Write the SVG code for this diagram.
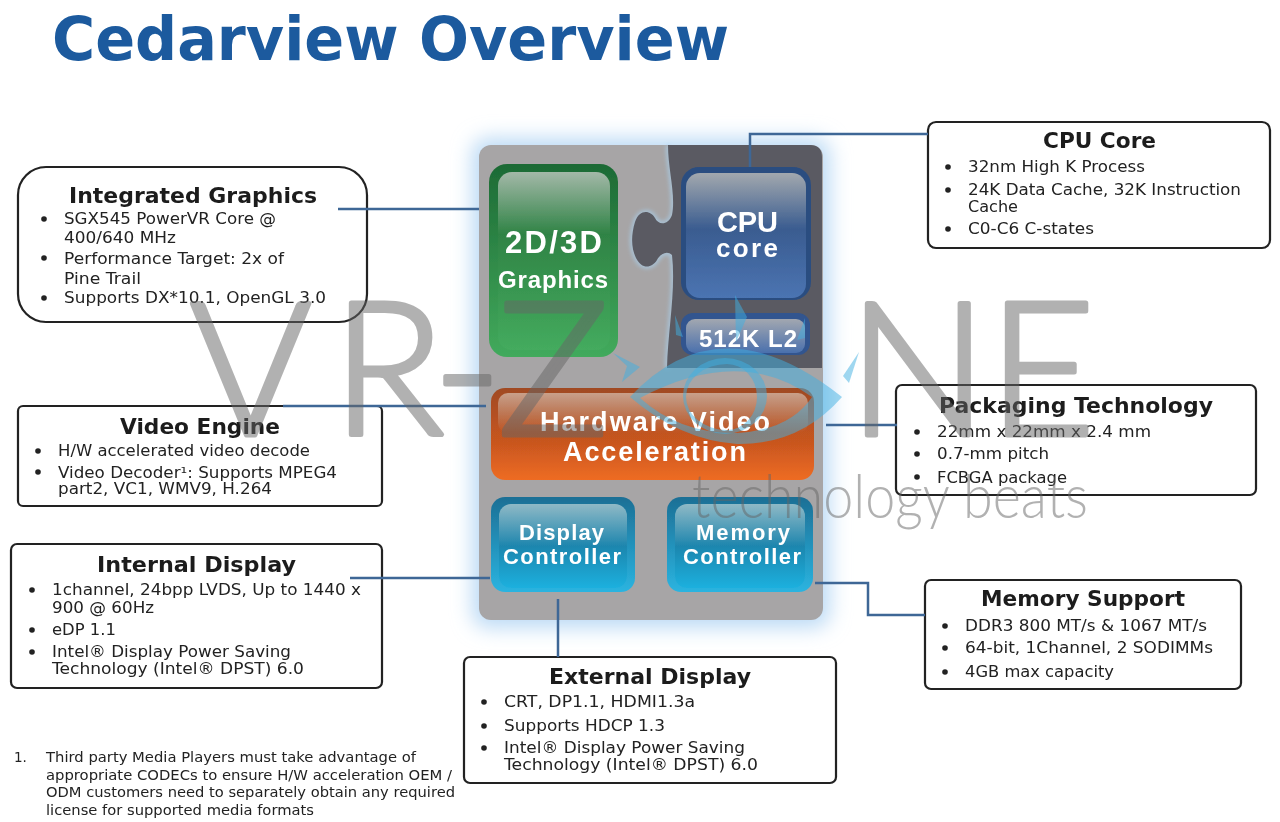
<svg xmlns="http://www.w3.org/2000/svg" width="1280" height="822" viewBox="0 0 1280 822">
<style>
text{font-family:"DejaVu Sans","Liberation Sans",sans-serif;fill:#222}
.t{font-weight:700;font-size:21px;fill:#1c1c1c}
.b{font-size:15.5px}
.f{font-size:13.5px}
.box{fill:#fff;stroke:#222;stroke-width:2.2}
.d{fill:#222}
.c{fill:none;stroke:#3e6796;stroke-width:2.5}
.w{font-family:"Liberation Sans","DejaVu Sans",sans-serif;font-weight:700;fill:#fff}
.m{font-family:Lato,"Liberation Sans",sans-serif;font-weight:300;fill:#666;opacity:.5}
.k{stroke:#666;stroke-width:5;stroke-linejoin:round;stroke-linecap:round}
.e{fill:#3fb0e2;opacity:.5}
.s{filter:url(#t)}
</style>
<defs>
<filter id="g" x="-20%" y="-20%" width="140%" height="140%"><feGaussianBlur stdDeviation="10"/></filter>
<filter id="s" x="-5%" y="-5%" width="110%" height="110%"><feGaussianBlur stdDeviation="0.6"/></filter>
<filter id="h" x="-20%" y="-20%" width="140%" height="140%"><feGaussianBlur stdDeviation="2"/></filter>
<filter id="t" x="-2%" y="-2%" width="104%" height="104%"><feGaussianBlur stdDeviation="0.35"/></filter>
<linearGradient id="gr" x1="0" y1="0" x2="0" y2="1"><stop offset="0" stop-color="#1d6a35"/><stop offset="1" stop-color="#42aa5c"/></linearGradient>
<linearGradient id="gi" x1="0" y1="0" x2="0" y2="1"><stop offset="0" stop-color="#a3b8a8"/><stop offset=".35" stop-color="#2f8345"/><stop offset="1" stop-color="#44ab5e"/></linearGradient>
<linearGradient id="cp" x1="0" y1="0" x2="0" y2="1"><stop offset="0" stop-color="#a2a8ae"/><stop offset=".45" stop-color="#3a5c90"/><stop offset="1" stop-color="#4b74b2"/></linearGradient>
<linearGradient id="l2" x1="0" y1="0" x2="0" y2="1"><stop offset="0" stop-color="#a2a7b0"/><stop offset="1" stop-color="#4a70ad"/></linearGradient>
<linearGradient id="hw" x1="0" y1="0" x2="0" y2="1"><stop offset="0" stop-color="#a04a22"/><stop offset=".6" stop-color="#c9561f"/><stop offset="1" stop-color="#ee6c22"/></linearGradient>
<linearGradient id="hi" x1="0" y1="0" x2="0" y2="1"><stop offset="0" stop-color="#c9a08a"/><stop offset="1" stop-color="#c9a08a" stop-opacity="0"/></linearGradient>
<linearGradient id="bl" x1="0" y1="0" x2="0" y2="1"><stop offset="0" stop-color="#1c6f95"/><stop offset="1" stop-color="#2bb4e0"/></linearGradient>
<linearGradient id="bi" x1="0" y1="0" x2="0" y2="1"><stop offset="0" stop-color="#8fb9c6"/><stop offset=".5" stop-color="#1e86ae"/><stop offset="1" stop-color="#1fb0de"/></linearGradient>
</defs>
<rect width="1280" height="822" fill="#fff"/>
<text id="title" class="s" x="52" y="60" textLength="677" lengthAdjust="spacingAndGlyphs" style="font-weight:700;font-size:60px;fill:#1b5a9e">Cedarview Overview</text>

<g id="chip">
<rect x="472" y="138" width="358" height="490" rx="16" fill="#bcdaf5" filter="url(#g)"/>
<g filter="url(#s)">
<rect x="479" y="145" width="344" height="475" rx="12" fill="#a7a5a6"/>
<path d="M668 145C668 170 676 195 672 215C668 226 658 225 655 218C651 211 640 208 635 222C631 235 631 248 636 258C642 270 652 268 657 260C660 254 667 250 672 255C676 290 668 330 667 368" fill="none" stroke="#a9d4f4" stroke-width="3.5" opacity=".8" filter="url(#h)"/>
<path d="M668 145H810Q822 145 822 157V368H667C668 330 676 290 672 255C667 250 660 254 657 260C652 268 642 270 636 258C631 248 631 235 635 222C640 208 651 211 655 218C658 225 668 226 672 215C676 195 668 170 668 145Z" fill="#5a5a62"/>
</g>
</g>

<g id="graphics" filter="url(#s)">
<rect x="489" y="164" width="129" height="193" rx="18" fill="url(#gr)"/>
<rect x="498" y="172" width="112" height="178" rx="14" fill="url(#gi)"/>
<text class="w" x="505" y="253" font-size="31" textLength="97">2D/3D</text>
<text class="w" x="498" y="288" font-size="24" textLength="110">Graphics</text>
</g>
<g id="cpu" filter="url(#s)">
<rect x="681" y="167" width="130" height="133" rx="18" fill="#2b4d80"/>
<rect x="686" y="173" width="120" height="125" rx="14" fill="url(#cp)"/>
<text class="w" x="717" y="232" font-size="29" textLength="61">CPU</text>
<text class="w" x="716" y="257" font-size="26" textLength="62">core</text>
</g>
<g id="l2cache" filter="url(#s)">
<rect x="681" y="313" width="129" height="42" rx="12" fill="#31558f"/>
<rect x="686" y="319" width="119" height="34" rx="9" fill="url(#l2)"/>
<text class="w" x="699" y="347" font-size="24" textLength="98">512K L2</text>
</g>
<g id="hwvideo" filter="url(#s)">
<rect x="491" y="388" width="323" height="92" rx="14" fill="url(#hw)"/>
<rect x="498" y="393" width="310" height="40" rx="10" fill="url(#hi)"/>
<text class="w" x="540" y="431" font-size="27" textLength="230">Hardware Video</text>
<text class="w" x="563" y="461" font-size="27" textLength="183">Acceleration</text>
</g>
<g id="display" filter="url(#s)">
<rect x="491" y="497" width="144" height="95" rx="14" fill="url(#bl)"/>
<rect x="499" y="504" width="128" height="84" rx="12" fill="url(#bi)"/>
<text class="w" x="519" y="540" font-size="22" textLength="85">Display</text>
<text class="w" x="503" y="564" font-size="22" textLength="118">Controller</text>
</g>
<g id="memory" filter="url(#s)">
<rect x="667" y="497" width="146" height="95" rx="14" fill="url(#bl)"/>
<rect x="675" y="504" width="130" height="84" rx="12" fill="url(#bi)"/>
<text class="w" x="696" y="540" font-size="22" textLength="94">Memory</text>
<text class="w" x="683" y="564" font-size="22" textLength="118">Controller</text>
</g>

<g id="integrated-graphics" class="s">
<rect class="box" x="18" y="167" width="349" height="155" rx="28"/>
<text class="t" x="69" y="203" textLength="248" lengthAdjust="spacingAndGlyphs">Integrated Graphics</text>
<circle class="d" cx="44" cy="219" r="2.8"/><circle class="d" cx="44" cy="258" r="2.8"/><circle class="d" cx="44" cy="298" r="2.8"/>
<text class="b" x="64" y="224" textLength="212" lengthAdjust="spacingAndGlyphs">SGX545 PowerVR Core @</text>
<text class="b" x="64" y="243" textLength="112" lengthAdjust="spacingAndGlyphs">400/640 MHz</text>
<text class="b" x="64" y="264" textLength="220" lengthAdjust="spacingAndGlyphs">Performance Target: 2x of</text>
<text class="b" x="64" y="284" textLength="77" lengthAdjust="spacingAndGlyphs">Pine Trail</text>
<text class="b" x="64" y="303" textLength="262" lengthAdjust="spacingAndGlyphs">Supports DX*10.1, OpenGL 3.0</text>
</g>
<g id="cpu-core" class="s">
<rect class="box" x="928" y="122" width="342" height="126" rx="8"/>
<text class="t" x="1043" y="148" textLength="113" lengthAdjust="spacingAndGlyphs">CPU Core</text>
<circle class="d" cx="948" cy="167" r="2.8"/><circle class="d" cx="948" cy="190" r="2.8"/><circle class="d" cx="948" cy="229" r="2.8"/>
<text class="b" x="968" y="172" textLength="177" lengthAdjust="spacingAndGlyphs">32nm High K Process</text>
<text class="b" x="968" y="195" textLength="273" lengthAdjust="spacingAndGlyphs">24K Data Cache, 32K Instruction</text>
<text class="b" x="968" y="212" textLength="50" lengthAdjust="spacingAndGlyphs">Cache</text>
<text class="b" x="968" y="234" textLength="126" lengthAdjust="spacingAndGlyphs">C0-C6 C-states</text>
</g>
<g id="video-engine" class="s">
<rect class="box" x="18" y="406" width="364" height="100" rx="5"/>
<text class="t" x="120" y="434" textLength="160" lengthAdjust="spacingAndGlyphs">Video Engine</text>
<circle class="d" cx="38" cy="451" r="2.8"/><circle class="d" cx="38" cy="472" r="2.8"/>
<text class="b" x="58" y="456" textLength="252" lengthAdjust="spacingAndGlyphs">H/W accelerated video decode</text>
<text class="b" x="58" y="478" textLength="279" lengthAdjust="spacingAndGlyphs">Video Decoder¹: Supports MPEG4</text>
<text class="b" x="58" y="494" textLength="214" lengthAdjust="spacingAndGlyphs">part2, VC1, WMV9, H.264</text>
</g>
<g id="packaging-technology" class="s">
<rect class="box" x="896" y="385" width="360" height="110" rx="6"/>
<text class="t" x="939" y="413" textLength="274" lengthAdjust="spacingAndGlyphs">Packaging Technology</text>
<circle class="d" cx="917" cy="432" r="2.8"/><circle class="d" cx="917" cy="454" r="2.8"/><circle class="d" cx="917" cy="477" r="2.8"/>
<text class="b" x="937" y="437" textLength="214" lengthAdjust="spacingAndGlyphs">22mm x 22mm x 2.4 mm</text>
<text class="b" x="937" y="459" textLength="112" lengthAdjust="spacingAndGlyphs">0.7-mm pitch</text>
<text class="b" x="937" y="483" textLength="130" lengthAdjust="spacingAndGlyphs">FCBGA package</text>
</g>
<g id="internal-display" class="s">
<rect class="box" x="11" y="544" width="371" height="144" rx="6"/>
<text class="t" x="97" y="572" textLength="199" lengthAdjust="spacingAndGlyphs">Internal Display</text>
<circle class="d" cx="32" cy="590" r="2.8"/><circle class="d" cx="32" cy="630" r="2.8"/><circle class="d" cx="32" cy="652" r="2.8"/>
<text class="b" x="52" y="595" textLength="309" lengthAdjust="spacingAndGlyphs">1channel, 24bpp LVDS, Up to 1440 x</text>
<text class="b" x="52" y="613" textLength="102" lengthAdjust="spacingAndGlyphs">900 @ 60Hz</text>
<text class="b" x="52" y="635" textLength="64" lengthAdjust="spacingAndGlyphs">eDP 1.1</text>
<text class="b" x="52" y="657" textLength="239" lengthAdjust="spacingAndGlyphs">Intel® Display Power Saving</text>
<text class="b" x="52" y="674" textLength="252" lengthAdjust="spacingAndGlyphs">Technology (Intel® DPST) 6.0</text>
</g>
<g id="external-display" class="s">
<rect class="box" x="464" y="657" width="372" height="126" rx="6"/>
<text class="t" x="549" y="684" textLength="202" lengthAdjust="spacingAndGlyphs">External Display</text>
<circle class="d" cx="484" cy="702" r="2.8"/><circle class="d" cx="484" cy="726" r="2.8"/><circle class="d" cx="484" cy="748" r="2.8"/>
<text class="b" x="504" y="707" textLength="191" lengthAdjust="spacingAndGlyphs">CRT, DP1.1, HDMI1.3a</text>
<text class="b" x="504" y="731" textLength="161" lengthAdjust="spacingAndGlyphs">Supports HDCP 1.3</text>
<text class="b" x="504" y="753" textLength="241" lengthAdjust="spacingAndGlyphs">Intel® Display Power Saving</text>
<text class="b" x="504" y="770" textLength="254" lengthAdjust="spacingAndGlyphs">Technology (Intel® DPST) 6.0</text>
</g>
<g id="memory-support" class="s">
<rect class="box" x="925" y="580" width="316" height="109" rx="6"/>
<text class="t" x="981" y="606" textLength="204" lengthAdjust="spacingAndGlyphs">Memory Support</text>
<circle class="d" cx="945" cy="626" r="2.8"/><circle class="d" cx="945" cy="648" r="2.8"/><circle class="d" cx="945" cy="672" r="2.8"/>
<text class="b" x="965" y="631" textLength="242" lengthAdjust="spacingAndGlyphs">DDR3 800 MT/s &amp; 1067 MT/s</text>
<text class="b" x="965" y="653" textLength="248" lengthAdjust="spacingAndGlyphs">64-bit, 1Channel, 2 SODIMMs</text>
<text class="b" x="965" y="677" textLength="149" lengthAdjust="spacingAndGlyphs">4GB max capacity</text>
</g>
<g id="footnote" class="s">
<text class="f" x="14" y="762">1.</text>
<text class="f" x="46" y="762" textLength="370" lengthAdjust="spacingAndGlyphs">Third party Media Players must take advantage of</text>
<text class="f" x="46" y="780" textLength="406" lengthAdjust="spacingAndGlyphs">appropriate CODECs to ensure H/W acceleration OEM /</text>
<text class="f" x="46" y="797" textLength="409" lengthAdjust="spacingAndGlyphs">ODM customers need to separately obtain any required</text>
<text class="f" x="46" y="815" textLength="268" lengthAdjust="spacingAndGlyphs">license for supported media formats</text>
</g>

<g id="connectors">
<path class="c" d="M338 209H479"/>
<path class="c" d="M750 167V134H928"/>
<path class="c" d="M283 406H486"/>
<path class="c" d="M826 425H897"/>
<path class="c" d="M350 578H490"/>
<path class="c" d="M558 599V657"/>
<path class="c" d="M815 583H868V615H925"/>
</g>

<g id="watermark">
<path class="e" fill-rule="evenodd" d="M630 397Q720 300 842 397Q800 445 737 444Q680 440 630 397ZM640 398Q680 434 737 433Q790 430 812 397Q740 345 640 398Z"/>
<path class="e" fill-rule="evenodd" d="M725 358A42 38 0 1 1 725 434A42 38 0 1 1 725 358ZM727 364A41 33 0 1 0 727 430A30 33 0 1 0 727 364Z"/>
<path class="e" d="M613 353L640 367L622 382L627 366Z"/>
<path class="e" d="M859 352L849 383L843 376Z"/>
<path class="e" d="M735 295L747 317L736 342Z"/>
<path class="e" d="M675 315L683 337L676 335Z"/>
<path class="e" d="M805 318L797 340L805 338Z"/>
<text class="m k" x="190 332 433 498" y="435" font-size="185">VR-Z</text>
<text class="m k" x="848 988" y="435" font-size="185">NE</text>
<text class="m" x="692" y="518" font-size="62" textLength="396" lengthAdjust="spacingAndGlyphs">technology beats</text>
</g>
</svg>
